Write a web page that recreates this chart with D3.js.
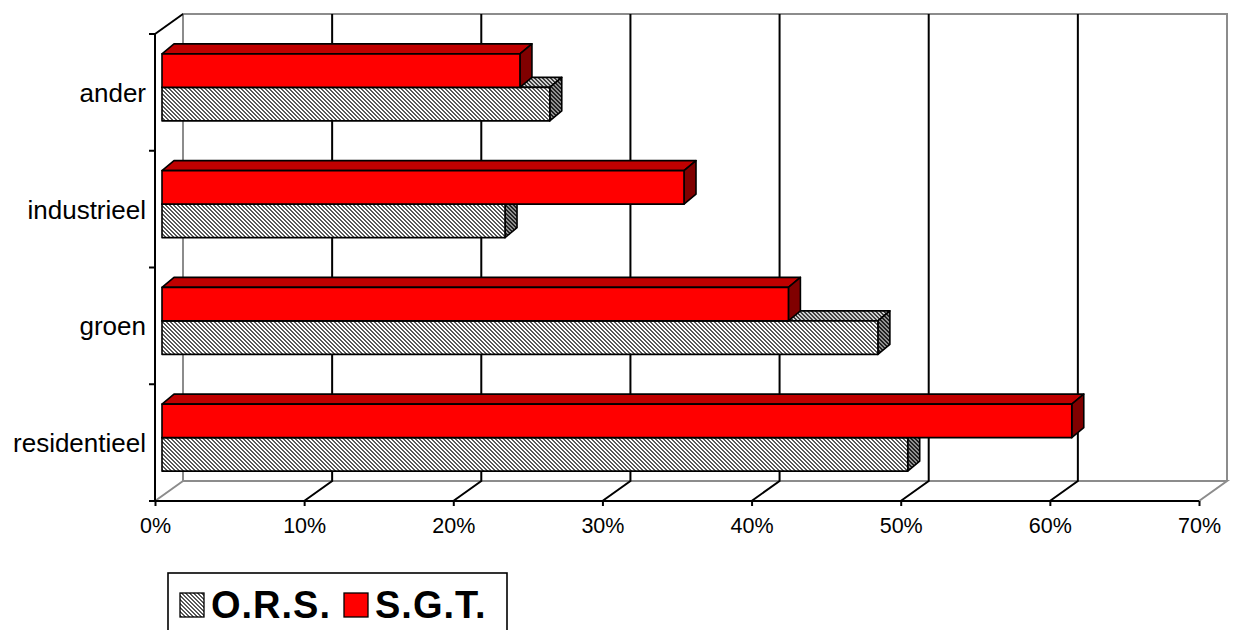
<!DOCTYPE html>
<html>
<head>
<meta charset="utf-8">
<script src="https://cdn.jsdelivr.net/npm/d3@7"></script>
<style>
  html, body { margin: 0; padding: 0; background: #fff; }
  svg { display: block; }
  text { font-family: "Liberation Sans", Arial, sans-serif; fill: #000; }
</style>
</head>
<body>
<svg id="chart" width="1234" height="630"></svg>
<script>
// ---- data ----
const categories = ["ander", "industrieel", "groen", "residentieel"]; // top to bottom
const seriesNames = ["O.R.S.", "S.G.T."];
const orsValues = [26, 23, 48, 50];
const sgtValues = [24, 35, 42, 61];
const tickValues = [0, 10, 20, 30, 40, 50, 60, 70];

// ---- layout ----
const svg = d3.select("#chart");
const x = d3.scaleLinear().domain([0, 70]).range([155, 1199]);
const y = d3.scaleBand().domain(categories).range([34, 501]);
const wall = { dx: 28, dy: -20 };       // depth of the plot box
const barOff = { dx: 7, dy: -5 };       // bar front face offset from front plane
const barDepth = { dx: 12, dy: -10 };   // bar thickness in depth
const inner = d3.scaleBand().domain(["sgt", "ors"]).range([0, y.bandwidth()])
  .paddingInner(0).paddingOuter(0.74);

const grayLine = "#8c8c8c";

// ---- patterns ----
const defs = svg.append("defs");
function makePattern(id, light, dark) {
  const p = defs.append("pattern").attr("id", id).attr("patternUnits", "userSpaceOnUse")
    .attr("width", 4).attr("height", 4);
  p.append("rect").attr("width", 4).attr("height", 4).attr("fill", light);
  const pts = [[0,0],[1,1],[2,2],[3,3],[1,0],[2,1],[3,2],[0,3]];
  p.selectAll("rect.d").data(pts).enter().append("rect").attr("class", "d")
    .attr("x", d => d[0]).attr("y", d => d[1]).attr("width", 1).attr("height", 1)
    .attr("fill", dark);
}
makePattern("hatchFront", "#ffffff", "#585858");
makePattern("hatchTop", "#d0d0d0", "#404040");
makePattern("hatchSide", "#909090", "#202020");

const styles = {
  ors: { front: "url(#hatchFront)", top: "url(#hatchTop)", side: "url(#hatchSide)" },
  sgt: { front: "#ff0000", top: "#c00000", side: "#800000" }
};

// ---- walls ----
const g = svg.append("g");
const x0 = x(0), x70 = x(70), yTop = 34, yBot = 501;
g.append("path").attr("fill", "none").attr("stroke", grayLine).attr("stroke-width", 2)
  .attr("d", `M${x0 + wall.dx},${yBot + wall.dy}V${yTop + wall.dy}H${x70 + wall.dx}V${yBot + wall.dy}`);
g.append("path").attr("fill", "none").attr("stroke", grayLine).attr("stroke-width", 2)
  .attr("d", `M${x0 + wall.dx},${yBot + wall.dy}H${x70 + wall.dx}L${x70},${yBot}` +
             `M${x0 + wall.dx},${yBot + wall.dy}L${x0},${yBot}`);
const innerTicks = tickValues.slice(1, -1);
g.selectAll("path.grid").data(innerTicks).enter().append("path").attr("class", "grid")
  .attr("fill", "none").attr("stroke", "#000").attr("stroke-width", 2)
  .attr("d", d => `M${x(d) + wall.dx},${yTop + wall.dy}V${yBot + wall.dy}L${x(d)},${yBot}`);
g.append("path").attr("fill", "none").attr("stroke", "#000").attr("stroke-width", 2)
  .attr("d", `M${x0},${yTop}L${x0 + wall.dx},${yTop + wall.dy}`);

// ---- bars ----
function drawBar(sel, v, yt, h, st) {
  const xa = x(0) + barOff.dx, xb = x(v) + barOff.dx;
  const ya = yt + barOff.dy, yb = ya + h;
  const dx = barDepth.dx, dy = barDepth.dy;
  const bar = sel.append("g").attr("stroke", "#000").attr("stroke-width", 1.6).attr("stroke-linejoin", "round");
  bar.append("path").attr("fill", st.top)
    .attr("d", `M${xa},${ya}L${xa + dx},${ya + dy}H${xb + dx}L${xb},${ya}Z`);
  bar.append("path").attr("fill", st.side)
    .attr("d", `M${xb},${ya}L${xb + dx},${ya + dy}V${yb + dy}L${xb},${yb}Z`);
  bar.append("rect").attr("fill", st.front)
    .attr("x", xa).attr("y", ya).attr("width", xb - xa).attr("height", h);
}
const barsG = svg.append("g");
categories.forEach((c, i) => {
  const by = y(c);
  drawBar(barsG, orsValues[i], by + inner("ors"), inner.bandwidth(), styles.ors);
  drawBar(barsG, sgtValues[i], by + inner("sgt"), inner.bandwidth(), styles.sgt);
});

// ---- axes ----
const xAxis = d3.axisBottom(x).tickValues(tickValues).tickFormat(d => d + "%")
  .tickSize(5).tickPadding(12);
const xg = svg.append("g").attr("transform", `translate(0,${yBot})`).call(xAxis);
xg.select(".domain").attr("stroke", "#000").attr("stroke-width", 2).attr("d", `M${x0},0H${x70}`);
xg.selectAll(".tick line").attr("stroke", "#000").attr("stroke-width", 2);
xg.selectAll(".tick text").style("font-family", '"Liberation Sans", Arial, sans-serif')
  .style("font-size", "21.5px").attr("fill", "#000");

const yAxis = d3.axisLeft(y).tickSize(0).tickPadding(9);
const yg = svg.append("g").attr("transform", `translate(${x0},0)`).call(yAxis);
yg.select(".domain").attr("stroke", "#000").attr("stroke-width", 2).attr("d", `M0,${yTop}V${yBot}`);
yg.selectAll(".tick text").style("font-family", '"Liberation Sans", Arial, sans-serif')
  .style("font-size", "26px").attr("fill", "#000").attr("dy", "0.36em");
const bounds = categories.map(c => y(c)).concat([yBot]);
yg.selectAll("line.bnd").data(bounds).enter().append("line").attr("class", "bnd")
  .attr("x1", -6).attr("x2", 0).attr("y1", d => d).attr("y2", d => d)
  .attr("stroke", "#000").attr("stroke-width", 2);

// ---- legend ----
const lg = svg.append("g");
lg.append("rect").attr("x", 168).attr("y", 573).attr("width", 339).attr("height", 80)
  .attr("fill", "#fff").attr("stroke", "#000").attr("stroke-width", 1.6);
const legendItems = [
  { name: seriesNames[0], fill: styles.ors.front, sx: 180, tx: 211 },
  { name: seriesNames[1], fill: styles.sgt.front, sx: 344, tx: 375 }
];
legendItems.forEach(it => {
  lg.append("rect").attr("x", it.sx).attr("y", 593).attr("width", 24).attr("height", 24)
    .attr("fill", it.fill).attr("stroke", "#000").attr("stroke-width", 1.3);
  lg.append("text").attr("x", it.tx).attr("y", 618).text(it.name)
    .style("font-size", "38px").style("font-weight", "bold").style("letter-spacing", "1px");
});
</script>
</body>
</html>
